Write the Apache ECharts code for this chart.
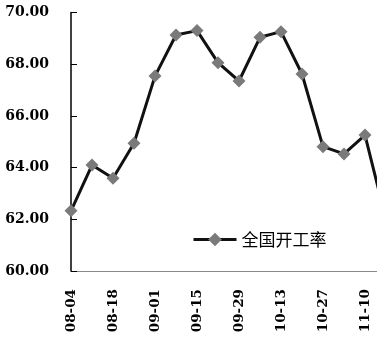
<!DOCTYPE html>
<html>
<head>
<meta charset="utf-8">
<script src="https://cdn.jsdelivr.net/npm/echarts@6/dist/echarts.min.js"></script>
<style>
  html, body { margin: 0; padding: 0; background: #fff; }
  #clip { width: 377px; height: 340px; overflow: hidden; }
  #chart { width: 400px; height: 340px; }
</style>
</head>
<body>
<div id="clip"><div id="chart"></div></div>
<script>
// weekly dates (the last week is cut off at the right edge)
const weeks = ['08-04', '08-11', '08-18', '08-25', '09-01', '09-08', '09-15', '09-22',
  '09-29', '10-06', '10-13', '10-20', '10-27', '11-03', '11-10', '11-17'];
const openRate = [62.33, 64.10, 63.59, 64.94, 67.54, 69.13, 69.30, 68.06,
  67.35, 69.04, 69.26, 67.62, 64.81, 64.53, 65.26, 62.0];
const seriesName = '全国开工率';

const chart = echarts.init(document.getElementById('chart'));

chart.setOption({
  animation: false,
  backgroundColor: '#fff',
  grid: { left: 71, top: 12.5, right: 14, bottom: 69, containLabel: false },
  legend: {
    left: 192,
    top: 231,
    padding: 0,
    itemWidth: 43,
    itemHeight: 17,
    itemGap: 5,
    data: [seriesName],
    lineStyle: { width: 3, color: '#111' },
    textStyle: { fontFamily: 'Noto Sans CJK SC', fontSize: 17, color: '#000' }
  },
  xAxis: {
    type: 'category',
    data: weeks,
    boundaryGap: false,
    axisLine: { lineStyle: { color: '#888', width: 1 } },
    axisTick: { show: false },
    axisLabel: {
      interval: 1,
      rotate: 90,
      margin: 18,
      color: '#000',
      fontFamily: 'DejaVu Serif',
      fontWeight: 'bold',
      fontSize: 13.5
    },
    splitLine: { show: false }
  },
  yAxis: {
    type: 'value',
    min: 60,
    max: 70,
    interval: 2,
    axisLine: { show: true, lineStyle: { color: '#000', width: 1.5 } },
    axisTick: { show: true, inside: true, length: 6, lineStyle: { color: '#000' } },
    axisLabel: {
      margin: 22,
      color: '#000',
      fontFamily: 'DejaVu Serif',
      fontWeight: 'bold',
      fontSize: 14,
      formatter: v => v.toFixed(2)
    },
    splitLine: { show: false }
  },
  series: [{
    name: seriesName,
    type: 'line',
    data: openRate,
    symbol: 'diamond',
    symbolSize: 13,
    showAllSymbol: true,
    lineStyle: { color: '#111', width: 3 },
    itemStyle: { color: '#7a7a7a', borderWidth: 0 }
  }]
});
</script>
</body>
</html>
